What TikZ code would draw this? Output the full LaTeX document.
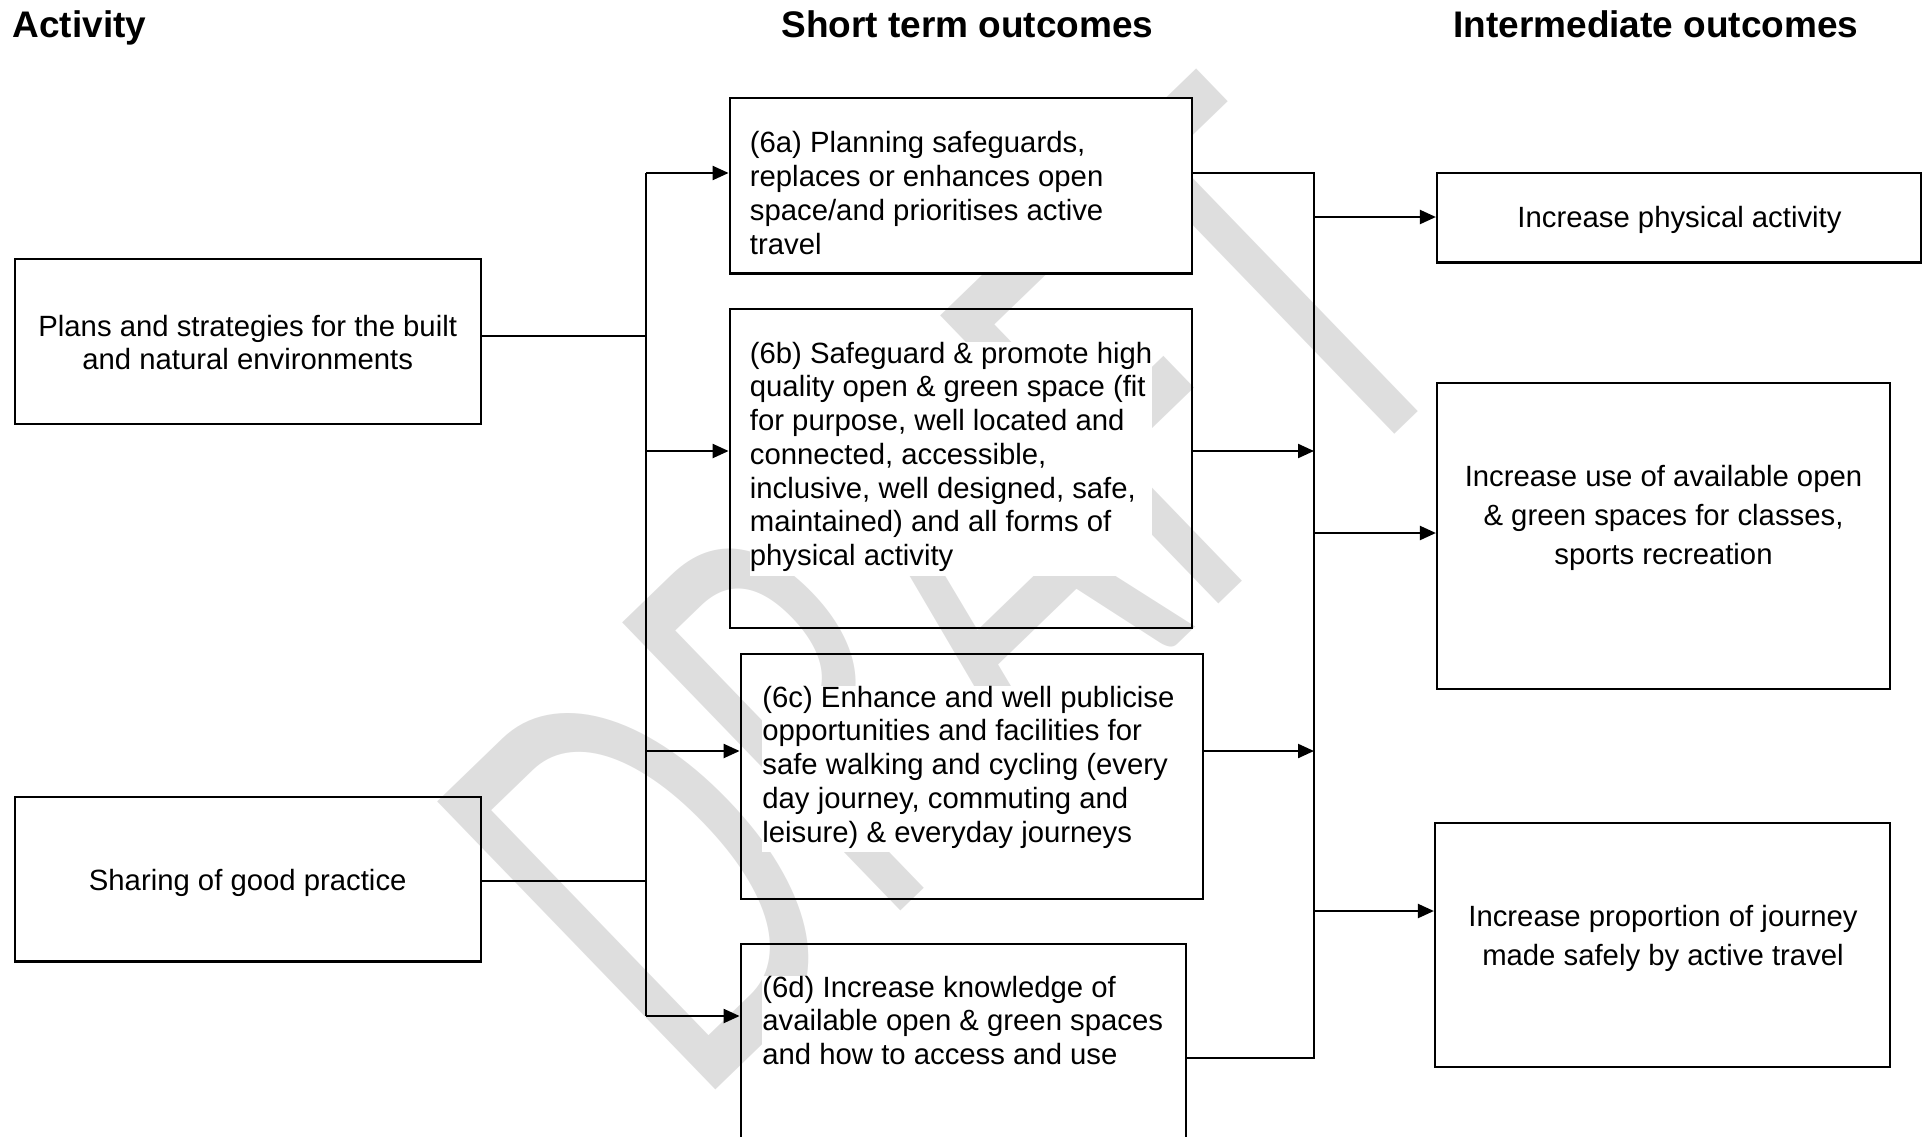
\documentclass[tikz,border=0pt]{standalone}
\usepackage{fontspec}
\usepackage{graphicx}
\setmainfont{Liberation Sans}
\IfFontExistsTF{Lato}
  {\newfontfamily\wmfont{Lato}}
  {\newfontfamily\wmfont{Carlito}}
\usetikzlibrary{arrows.meta,fit}
\definecolor{wmgray}{RGB}{222,222,222}
\begin{document}
\begin{tikzpicture}[x=0.5pt,y=-0.5pt,
  box/.style={draw, line width=1.1pt, inner sep=0pt},
  txt/.style={inner sep=0pt, fill=white, align=left,
    font=\fontsize{14.65pt}{16.85pt}\selectfont,
    execute at begin node=\strut, execute at end node=\strut},
  ctxt/.style={txt, align=center},
  wtxt/.style={ctxt, font=\fontsize{14.65pt}{19.5pt}\selectfont},
  hdr/.style={inner sep=0pt, font=\fontsize{18.5pt}{22pt}\selectfont\bfseries},
  ln/.style={line width=1.1pt},
  arr/.style={ln, -{Triangle[length=8pt,width=7pt]}}]
\useasboundingbox (0,0) rectangle (1923,1136);

% watermark behind everything
\node[inner sep=0pt, anchor=base west, rotate=44, text=wmgray] (wmark) at (693,1112)
      {\resizebox{545pt}{200pt}{\wmfont DRAFT}};

% column headings
\node[hdr, anchor=base west] (hact) at (12.3,37.8) {Activity};
\node[hdr, anchor=base west] (hshort) at (781,37.8) {Short term outcomes};
\node[hdr, anchor=base west] (hinter) at (1453,37.8) {Intermediate outcomes};

% activity boxes
\node[box, fit={(14.7,258.8) (480.8,424.3)}] (plans) {};
\node[box, fit={(14.7,797) (480.8,961.5)}] (sharing) {};
\node[ctxt, anchor=north] (tplans) at (247.7,314.5)
  {Plans and strategies for the built\\and natural environments};
\node[ctxt, anchor=north] (tsharing) at (247.7,866.5) {Sharing of good practice};

% short term outcome boxes
\node[box, fill=white, fit={(729.7,98.1) (1192,273.5)}] (n6a) {};
\node[box, fit={(729.7,309) (1192,628)}] (n6b) {};
\node[box, fit={(740.7,654) (1203,899)}] (n6c) {};
\node[box, fit={(740.7,944) (1186,1138)}] (n6d) {};
\node[txt, anchor=north west] (t6a) at (749.5,131.3)
  {(6a) Planning safeguards,\\replaces or enhances open\\space/and prioritises active\\travel};
\node[txt, anchor=north west] (t6b) at (749.5,341.6)
  {(6b) Safeguard \& promote high\\quality open \& green space (fit\\for purpose, well located and\\connected, accessible,\\inclusive, well designed, safe,\\maintained) and all forms of\\physical activity};
\node[txt, anchor=north west] (t6c) at (762,685.6)
  {(6c) Enhance and well publicise\\opportunities and facilities for\\safe walking and cycling (every\\day journey, commuting and\\leisure) \& everyday journeys};
\node[txt, anchor=north west] (t6d) at (762,975.4)
  {(6d) Increase knowledge of\\available open \& green spaces\\and how to access and use};

% intermediate outcome boxes
\node[box, fit={(1437,173) (1921,262.5)}] (ipa) {};
\node[box, fit={(1437,382.6) (1890,689)}] (use) {};
\node[box, fit={(1435,823) (1890,1067)}] (jrn) {};
\node[ctxt, anchor=north] (tipa) at (1679.5,203.4) {Increase physical activity};
\node[wtxt, anchor=north] (tuse) at (1663.5,464.7)
  {Increase use of available open\\\& green spaces for classes,\\sports recreation};
\node[wtxt, anchor=north] (tjrn) at (1663,904.7)
  {Increase proportion of journey\\made safely by active travel};

% junction points on the two distribution bars
\coordinate (jp) at (646,336);
\coordinate (js) at (646,881);
\coordinate (la) at (646,173);
\coordinate (lb) at (646,451);
\coordinate (lc) at (646,751);
\coordinate (ld) at (646,1016);
\coordinate (ra) at (1314,173);
\coordinate (rb) at (1314,451);
\coordinate (rc) at (1314,751);
\coordinate (rd) at (1314,1058);
\coordinate (ri) at (1314,217);
\coordinate (ru) at (1314,533);
\coordinate (rj) at (1314,911);

% activities to short term outcomes
\draw[ln] (plans.east |- jp) -- (jp);
\draw[ln] (sharing.east |- js) -- (js);
\draw[ln] (la) -- (ld);
\draw[arr] (la) -- (la -| n6a.west);
\draw[arr] (lb) -- (lb -| n6b.west);
\draw[arr] (lc) -- (lc -| n6c.west);
\draw[arr] (ld) -- (ld -| n6d.west);

% short term to intermediate outcomes
\draw[ln] (n6a.east |- ra) -- (ra) -- (rd) -- (n6d.east |- rd);
\draw[arr] (n6b.east |- rb) -- (rb);
\draw[arr] (n6c.east |- rc) -- (rc);
\draw[arr] (ri) -- (ri -| ipa.west);
\draw[arr] (ru) -- (ru -| use.west);
\draw[arr] (rj) -- (rj -| jrn.west);
\end{tikzpicture}
\end{document}
